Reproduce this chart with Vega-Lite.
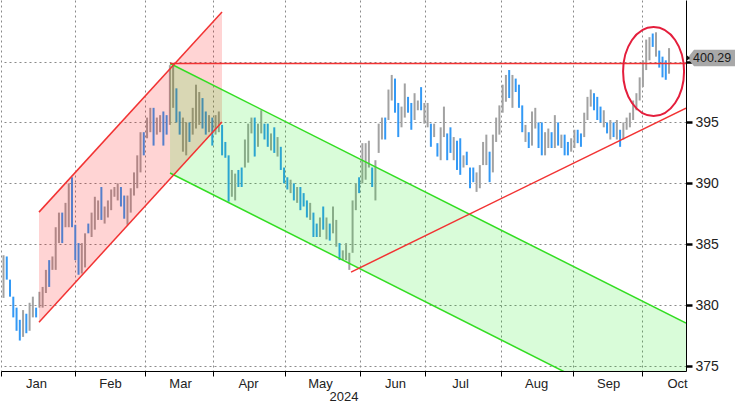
{
  "$schema": "https://vega.github.io/schema/vega-lite/v6.json",
  "width": 685,
  "height": 371,
  "padding": 0,
  "background": "white",
  "config": {"view": {"stroke": null}, "font": "Liberation Sans"},
  "datasets": {
    "bars": [
      {"t":0,"hi":384.1,"lo":380.6,"dir":"up"},{"t":1,"hi":384.0,"lo":382.1,"dir":"down"},{"t":2,"hi":382.1,"lo":380.7,"dir":"down"},{"t":3,"hi":380.7,"lo":379.0,"dir":"down"},{"t":4,"hi":379.8,"lo":377.9,"dir":"down"},{"t":5,"hi":378.8,"lo":377.1,"dir":"down"},{"t":6,"hi":379.6,"lo":377.4,"dir":"up"},{"t":7,"hi":379.3,"lo":377.7,"dir":"down"},{"t":8,"hi":380.2,"lo":377.9,"dir":"up"},{"t":9,"hi":380.7,"lo":379.0,"dir":"up"},
      {"t":10,"hi":379.8,"lo":379.0,"dir":"down"},{"t":11,"hi":381.1,"lo":379.8,"dir":"up"},{"t":12,"hi":381.5,"lo":379.8,"dir":"up"},{"t":13,"hi":382.9,"lo":381.0,"dir":"up"},{"t":14,"hi":383.7,"lo":381.5,"dir":"down"},{"t":15,"hi":384.0,"lo":382.9,"dir":"up"},{"t":16,"hi":386.4,"lo":382.9,"dir":"up"},{"t":17,"hi":387.6,"lo":385.1,"dir":"up"},{"t":18,"hi":387.6,"lo":385.1,"dir":"down"},{"t":19,"hi":388.4,"lo":386.4,"dir":"up"},
      {"t":20,"hi":390.0,"lo":386.4,"dir":"up"},{"t":21,"hi":390.5,"lo":386.4,"dir":"down"},{"t":22,"hi":386.6,"lo":383.7,"dir":"down"},{"t":23,"hi":385.1,"lo":382.5,"dir":"down"},{"t":24,"hi":385.1,"lo":382.6,"dir":"up"},{"t":25,"hi":385.9,"lo":383.1,"dir":"up"},{"t":26,"hi":386.7,"lo":385.9,"dir":"down"},{"t":27,"hi":387.6,"lo":385.6,"dir":"up"},{"t":28,"hi":388.9,"lo":386.2,"dir":"up"},{"t":29,"hi":388.6,"lo":387.0,"dir":"up"},
      {"t":30,"hi":389.7,"lo":387.0,"dir":"down"},{"t":31,"hi":388.1,"lo":386.7,"dir":"up"},{"t":32,"hi":388.6,"lo":387.2,"dir":"up"},{"t":33,"hi":389.5,"lo":387.8,"dir":"up"},{"t":34,"hi":389.7,"lo":388.9,"dir":"up"},{"t":35,"hi":390.0,"lo":388.6,"dir":"up"},{"t":36,"hi":389.7,"lo":388.1,"dir":"down"},{"t":37,"hi":389.0,"lo":387.1,"dir":"down"},{"t":38,"hi":389.0,"lo":386.6,"dir":"up"},{"t":39,"hi":389.6,"lo":387.6,"dir":"up"},
      {"t":40,"hi":390.9,"lo":389.0,"dir":"up"},{"t":41,"hi":392.3,"lo":389.6,"dir":"up"},{"t":42,"hi":394.2,"lo":390.9,"dir":"up"},{"t":43,"hi":394.2,"lo":392.3,"dir":"down"},{"t":44,"hi":395.4,"lo":393.7,"dir":"up"},{"t":45,"hi":396.2,"lo":394.2,"dir":"up"},{"t":46,"hi":396.2,"lo":393.1,"dir":"down"},{"t":47,"hi":395.4,"lo":394.0,"dir":"up"},{"t":48,"hi":395.6,"lo":394.2,"dir":"up"},{"t":49,"hi":395.9,"lo":393.1,"dir":"down"},
      {"t":50,"hi":395.6,"lo":394.0,"dir":"down"},{"t":51,"hi":399.7,"lo":394.8,"dir":"up"},{"t":52,"hi":399.8,"lo":396.2,"dir":"up"},{"t":53,"hi":397.8,"lo":395.0,"dir":"down"},{"t":54,"hi":395.9,"lo":394.0,"dir":"down"},{"t":55,"hi":395.4,"lo":392.6,"dir":"up"},{"t":56,"hi":395.0,"lo":392.3,"dir":"up"},{"t":57,"hi":395.0,"lo":393.4,"dir":"down"},{"t":58,"hi":396.2,"lo":394.0,"dir":"up"},{"t":59,"hi":398.1,"lo":394.5,"dir":"up"},
      {"t":60,"hi":397.5,"lo":394.8,"dir":"up"},{"t":61,"hi":397.0,"lo":394.5,"dir":"down"},{"t":62,"hi":395.9,"lo":394.0,"dir":"down"},{"t":63,"hi":395.6,"lo":394.2,"dir":"up"},{"t":64,"hi":395.4,"lo":393.1,"dir":"down"},{"t":65,"hi":395.6,"lo":394.0,"dir":"up"},{"t":66,"hi":395.9,"lo":394.2,"dir":"up"},{"t":67,"hi":394.8,"lo":392.3,"dir":"down"},{"t":68,"hi":393.4,"lo":392.1,"dir":"down"},{"t":69,"hi":392.3,"lo":388.5,"dir":"down"},
      {"t":70,"hi":391.1,"lo":388.9,"dir":"up"},{"t":71,"hi":390.8,"lo":388.6,"dir":"up"},{"t":72,"hi":391.1,"lo":389.7,"dir":"down"},{"t":73,"hi":391.3,"lo":389.7,"dir":"down"},{"t":74,"hi":393.6,"lo":391.3,"dir":"up"},{"t":75,"hi":394.9,"lo":391.7,"dir":"up"},{"t":76,"hi":395.4,"lo":394.1,"dir":"up"},{"t":77,"hi":395.4,"lo":392.2,"dir":"down"},{"t":78,"hi":394.9,"lo":393.0,"dir":"up"},{"t":79,"hi":396.0,"lo":394.1,"dir":"up"},
      {"t":80,"hi":394.9,"lo":393.6,"dir":"down"},{"t":81,"hi":394.9,"lo":393.0,"dir":"down"},{"t":82,"hi":394.1,"lo":392.7,"dir":"up"},{"t":83,"hi":394.6,"lo":392.5,"dir":"down"},{"t":84,"hi":393.8,"lo":392.2,"dir":"up"},{"t":85,"hi":393.0,"lo":391.1,"dir":"down"},{"t":86,"hi":391.3,"lo":390.0,"dir":"down"},{"t":87,"hi":390.5,"lo":389.5,"dir":"down"},{"t":88,"hi":390.3,"lo":389.2,"dir":"up"},{"t":89,"hi":390.0,"lo":388.6,"dir":"down"},
      {"t":90,"hi":389.7,"lo":388.4,"dir":"up"},{"t":91,"hi":389.7,"lo":387.8,"dir":"down"},{"t":92,"hi":389.2,"lo":388.1,"dir":"down"},{"t":93,"hi":388.6,"lo":387.2,"dir":"down"},{"t":94,"hi":388.4,"lo":387.0,"dir":"up"},{"t":95,"hi":387.6,"lo":385.6,"dir":"down"},{"t":96,"hi":386.7,"lo":385.6,"dir":"down"},{"t":97,"hi":387.2,"lo":385.6,"dir":"up"},{"t":98,"hi":388.1,"lo":386.2,"dir":"down"},{"t":99,"hi":387.2,"lo":385.4,"dir":"up"},
      {"t":100,"hi":386.7,"lo":385.3,"dir":"down"},{"t":101,"hi":388.1,"lo":385.9,"dir":"up"},{"t":102,"hi":387.0,"lo":384.8,"dir":"up"},{"t":103,"hi":385.1,"lo":383.7,"dir":"down"},{"t":104,"hi":384.5,"lo":383.7,"dir":"up"},{"t":105,"hi":385.1,"lo":383.7,"dir":"up"},{"t":106,"hi":384.3,"lo":382.9,"dir":"up"},{"t":107,"hi":388.6,"lo":384.3,"dir":"up"},{"t":108,"hi":390.0,"lo":387.8,"dir":"up"},{"t":109,"hi":390.5,"lo":389.2,"dir":"down"},
      {"t":110,"hi":393.3,"lo":390.0,"dir":"up"},{"t":111,"hi":393.3,"lo":390.3,"dir":"up"},{"t":112,"hi":393.5,"lo":391.3,"dir":"up"},{"t":113,"hi":391.3,"lo":389.7,"dir":"down"},{"t":114,"hi":391.9,"lo":388.6,"dir":"up"},{"t":115,"hi":394.9,"lo":392.5,"dir":"up"},{"t":116,"hi":395.4,"lo":393.6,"dir":"up"},{"t":117,"hi":395.4,"lo":393.6,"dir":"down"},{"t":118,"hi":397.7,"lo":395.2,"dir":"up"},{"t":119,"hi":398.9,"lo":396.8,"dir":"up"},
      {"t":120,"hi":398.6,"lo":395.8,"dir":"down"},{"t":121,"hi":396.6,"lo":393.8,"dir":"down"},{"t":122,"hi":396.3,"lo":394.6,"dir":"up"},{"t":123,"hi":398.2,"lo":395.4,"dir":"up"},{"t":124,"hi":397.1,"lo":395.8,"dir":"down"},{"t":125,"hi":396.6,"lo":394.4,"dir":"down"},{"t":126,"hi":397.4,"lo":395.2,"dir":"up"},{"t":127,"hi":396.8,"lo":396.0,"dir":"up"},{"t":128,"hi":397.9,"lo":396.0,"dir":"down"},{"t":129,"hi":396.6,"lo":394.9,"dir":"up"},
      {"t":130,"hi":396.6,"lo":394.6,"dir":"up"},{"t":131,"hi":394.9,"lo":393.0,"dir":"down"},{"t":132,"hi":394.9,"lo":393.8,"dir":"up"},{"t":133,"hi":393.3,"lo":392.2,"dir":"down"},{"t":134,"hi":394.6,"lo":391.9,"dir":"up"},{"t":135,"hi":396.3,"lo":393.8,"dir":"up"},{"t":136,"hi":394.1,"lo":391.9,"dir":"down"},{"t":137,"hi":394.6,"lo":392.5,"dir":"down"},{"t":138,"hi":393.8,"lo":391.9,"dir":"up"},{"t":139,"hi":393.5,"lo":391.1,"dir":"down"},
      {"t":140,"hi":393.7,"lo":390.7,"dir":"down"},{"t":141,"hi":392.3,"lo":391.3,"dir":"up"},{"t":142,"hi":392.6,"lo":391.5,"dir":"down"},{"t":143,"hi":391.3,"lo":389.6,"dir":"down"},{"t":144,"hi":391.3,"lo":390.1,"dir":"down"},{"t":145,"hi":390.9,"lo":389.3,"dir":"up"},{"t":146,"hi":391.5,"lo":389.6,"dir":"up"},{"t":147,"hi":393.4,"lo":391.5,"dir":"up"},{"t":148,"hi":394.0,"lo":391.5,"dir":"up"},{"t":149,"hi":392.6,"lo":390.1,"dir":"down"},
      {"t":150,"hi":394.0,"lo":390.9,"dir":"up"},{"t":151,"hi":395.4,"lo":393.4,"dir":"up"},{"t":152,"hi":396.4,"lo":394.0,"dir":"up"},{"t":153,"hi":398.1,"lo":395.8,"dir":"up"},{"t":154,"hi":398.9,"lo":396.7,"dir":"up"},{"t":155,"hi":399.3,"lo":397.0,"dir":"down"},{"t":156,"hi":398.9,"lo":396.2,"dir":"up"},{"t":157,"hi":398.6,"lo":397.5,"dir":"down"},{"t":158,"hi":398.1,"lo":396.2,"dir":"down"},{"t":159,"hi":396.4,"lo":394.2,"dir":"down"},
      {"t":160,"hi":394.8,"lo":393.4,"dir":"up"},{"t":161,"hi":394.2,"lo":392.9,"dir":"down"},{"t":162,"hi":395.9,"lo":393.1,"dir":"up"},{"t":163,"hi":396.2,"lo":394.5,"dir":"up"},{"t":164,"hi":395.0,"lo":392.9,"dir":"down"},{"t":165,"hi":395.0,"lo":392.3,"dir":"down"},{"t":166,"hi":394.2,"lo":392.3,"dir":"up"},{"t":167,"hi":394.5,"lo":392.9,"dir":"up"},{"t":168,"hi":394.2,"lo":392.9,"dir":"down"},{"t":169,"hi":395.6,"lo":392.9,"dir":"up"},
      {"t":170,"hi":395.0,"lo":393.1,"dir":"down"},{"t":171,"hi":394.0,"lo":392.9,"dir":"up"},{"t":172,"hi":394.0,"lo":392.3,"dir":"down"},{"t":173,"hi":393.4,"lo":392.3,"dir":"down"},{"t":174,"hi":393.7,"lo":392.6,"dir":"up"},{"t":175,"hi":394.4,"lo":392.9,"dir":"up"},{"t":176,"hi":394.4,"lo":393.3,"dir":"down"},{"t":177,"hi":394.1,"lo":393.0,"dir":"down"},{"t":178,"hi":395.8,"lo":393.8,"dir":"up"},{"t":179,"hi":397.1,"lo":395.2,"dir":"up"},
      {"t":180,"hi":397.7,"lo":396.3,"dir":"up"},{"t":181,"hi":397.4,"lo":396.0,"dir":"down"},{"t":182,"hi":397.1,"lo":395.2,"dir":"down"},{"t":183,"hi":396.3,"lo":395.0,"dir":"down"},{"t":184,"hi":396.0,"lo":394.6,"dir":"up"},{"t":185,"hi":395.0,"lo":394.1,"dir":"down"},{"t":186,"hi":395.2,"lo":393.6,"dir":"up"},{"t":187,"hi":395.0,"lo":393.8,"dir":"down"},{"t":188,"hi":395.2,"lo":393.6,"dir":"up"},{"t":189,"hi":394.4,"lo":393.0,"dir":"down"},
      {"t":190,"hi":395.0,"lo":393.6,"dir":"up"},{"t":191,"hi":395.4,"lo":394.4,"dir":"up"},{"t":192,"hi":395.8,"lo":394.6,"dir":"up"},{"t":193,"hi":396.8,"lo":395.2,"dir":"up"},{"t":194,"hi":397.4,"lo":396.0,"dir":"up"},{"t":195,"hi":398.7,"lo":396.8,"dir":"up"},{"t":196,"hi":400.1,"lo":397.9,"dir":"up"},{"t":197,"hi":401.8,"lo":399.3,"dir":"up"},{"t":198,"hi":402.0,"lo":400.1,"dir":"up"},{"t":199,"hi":402.3,"lo":401.2,"dir":"down"},
      {"t":200,"hi":402.4,"lo":400.4,"dir":"up"},{"t":201,"hi":400.9,"lo":399.5,"dir":"down"},{"t":202,"hi":400.4,"lo":398.7,"dir":"down"},{"t":203,"hi":400.1,"lo":398.5,"dir":"down"},{"t":204,"hi":401.1,"lo":399.0,"dir":"up"}
    ],
    "rising": [
      {"t":10.88,"v":387.64,"v2":378.61},
      {"t":66.98,"v":404.06,"v2":395.03}
    ],
    "falling": [
      {"t":51.04,"v":399.84,"v2":390.85},
      {"t":209.2,"v":378.53,"v2":369.5}
    ],
    "lines": [
      {"name":"rising upper","group":"red","t":10.88,"v":387.64,"t2":66.98,"v2":404.06},
      {"name":"rising lower","group":"red","t":10.88,"v":378.61,"t2":66.98,"v2":395.03},
      {"name":"march high","group":"red","t":51.04,"v":399.84,"t2":209.2,"v2":399.84},
      {"name":"support","group":"red","t":106.53,"v":382.72,"t2":209.2,"v2":396.18},
      {"name":"falling upper","group":"green","t":51.04,"v":399.84,"t2":209.2,"v2":378.53},
      {"name":"falling lower","group":"green","t":51.04,"v":390.85,"t2":209.2,"v2":369.5}
    ],
    "circle": [{"t":199.26,"v":399.18}],
    "last": [{"t":209.2,"v":400.29,"label":"400.29"}]
  },
  "layer": [
    {
      "data": {"name": "bars"},
      "mark": {"type": "rule", "strokeWidth": 2},
      "encoding": {
        "x": {
          "field": "t", "type": "quantitative",
          "scale": {"domain": [-0.766, 209.2], "nice": false, "zero": false},
          "axis": {
            "values": [-0.766, 21.92, 43.38, 64.22, 86.3, 109.29, 129.21, 152.51, 174.59, 195.74],
            "labelExpr": "datum.value < 10 ? 'Jan' : datum.value < 30 ? 'Feb' : datum.value < 50 ? 'Mar' : datum.value < 70 ? 'Apr' : datum.value < 95 ? 'May' : datum.value < 115 ? 'Jun' : datum.value < 140 ? 'Jul' : datum.value < 160 ? 'Aug' : datum.value < 180 ? 'Sep' : 'Oct'",
            "labelOffset": 35, "labelAlign": "center", "labelOverlap": false, "labelFlush": false, "labelBound": false,
            "grid": true, "gridDash": [2, 3], "gridColor": "#8a8a8a", "gridWidth": 1,
            "tickColor": "black", "tickSize": 5, "domainColor": "black", "domainWidth": 1,
            "labelFontSize": 13, "labelColor": "#222222", "labelPadding": 1,
            "title": "2024", "titleFontWeight": "normal", "titleFontSize": 13, "titleColor": "#222222", "titlePadding": 0
          }
        },
        "y": {
          "field": "lo", "type": "quantitative",
          "scale": {"domain": [374.6, 405.05], "nice": false, "zero": false},
          "axis": {
            "orient": "right",
            "values": [375, 377.5, 380, 382.5, 385, 387.5, 390, 392.5, 395, 397.5, 400, 402.5],
            "labelExpr": "datum.value % 5 === 0 && datum.value !== 400 ? format(datum.value, 'd') : ''",
            "grid": true, "gridDash": [2, 3], "gridColor": "#8a8a8a",
            "gridOpacity": {"condition": {"test": "datum.value % 5 === 0", "value": 1}, "value": 0},
            "tickSize": {"condition": {"test": "datum.value % 5 === 0", "value": 6}, "value": 4},
            "tickWidth": {"condition": {"test": "datum.value % 5 === 0", "value": 2.5}, "value": 1},
            "tickColor": "black", "domainColor": "black",
            "labelFontSize": 14, "labelColor": "#222222", "labelPadding": 3,
            "title": null
          }
        },
        "y2": {"field": "hi"},
        "color": {
          "field": "dir", "type": "nominal",
          "scale": {"domain": ["up", "down"], "range": ["#a2a2a2", "#3399f5"]},
          "legend": null
        }
      }
    },
    {
      "data": {"name": "rising"},
      "mark": {"type": "area", "color": "#ff0000", "opacity": 0.17},
      "encoding": {
        "x": {"field": "t", "type": "quantitative"},
        "y": {"field": "v", "type": "quantitative"},
        "y2": {"field": "v2"}
      }
    },
    {
      "data": {"name": "falling"},
      "mark": {"type": "area", "color": "#00ee00", "opacity": 0.15, "clip": true},
      "encoding": {
        "x": {"field": "t", "type": "quantitative"},
        "y": {"field": "v", "type": "quantitative"},
        "y2": {"field": "v2"}
      }
    },
    {
      "data": {"name": "lines"},
      "transform": [{"filter": "datum.group === 'green'"}],
      "mark": {"type": "rule", "color": "#33dd22", "strokeWidth": 1.5, "clip": true},
      "encoding": {
        "x": {"field": "t", "type": "quantitative"},
        "x2": {"field": "t2"},
        "y": {"field": "v", "type": "quantitative"},
        "y2": {"field": "v2"}
      }
    },
    {
      "data": {"name": "lines"},
      "transform": [{"filter": "datum.group === 'red'"}],
      "mark": {"type": "rule", "color": "#f23333", "strokeWidth": 1.5, "clip": true},
      "encoding": {
        "x": {"field": "t", "type": "quantitative"},
        "x2": {"field": "t2"},
        "y": {"field": "v", "type": "quantitative"},
        "y2": {"field": "v2"}
      }
    },
    {
      "data": {"name": "circle"},
      "mark": {
        "type": "point", "filled": false, "color": "#e41e3c", "strokeWidth": 2, "opacity": 1, "size": 7921,
        "shape": "M-0.685,0A0.685,1,0,1,0,0.685,0A0.685,1,0,1,0,-0.685,0Z"
      },
      "encoding": {
        "x": {"field": "t", "type": "quantitative"},
        "y": {"field": "v", "type": "quantitative"}
      }
    },
    {
      "data": {"name": "last"},
      "mark": {
        "type": "point", "filled": true, "color": "#a8a8a8", "opacity": 1, "size": 10000,
        "shape": "M0.03,0L0.16,-0.167L1,-0.167L1,0.167L0.16,0.167Z"
      },
      "encoding": {
        "x": {"field": "t", "type": "quantitative"},
        "y": {"field": "v", "type": "quantitative"}
      }
    },
    {
      "data": {"name": "last"},
      "mark": {
        "type": "point", "filled": true, "color": "#111111", "opacity": 1, "size": 10000,
        "shape": "M0,-0.07L0.08,0L0,0.07Z"
      },
      "encoding": {
        "x": {"field": "t", "type": "quantitative"},
        "y": {"field": "v", "type": "quantitative"}
      }
    },
    {
      "data": {"name": "last"},
      "mark": {"type": "text", "align": "left", "baseline": "middle", "dx": 7, "dy": 0, "fontSize": 12.5, "color": "#1a1a1a"},
      "encoding": {
        "x": {"field": "t", "type": "quantitative"},
        "y": {"field": "v", "type": "quantitative"},
        "text": {"field": "label"}
      }
    }
  ]
}
